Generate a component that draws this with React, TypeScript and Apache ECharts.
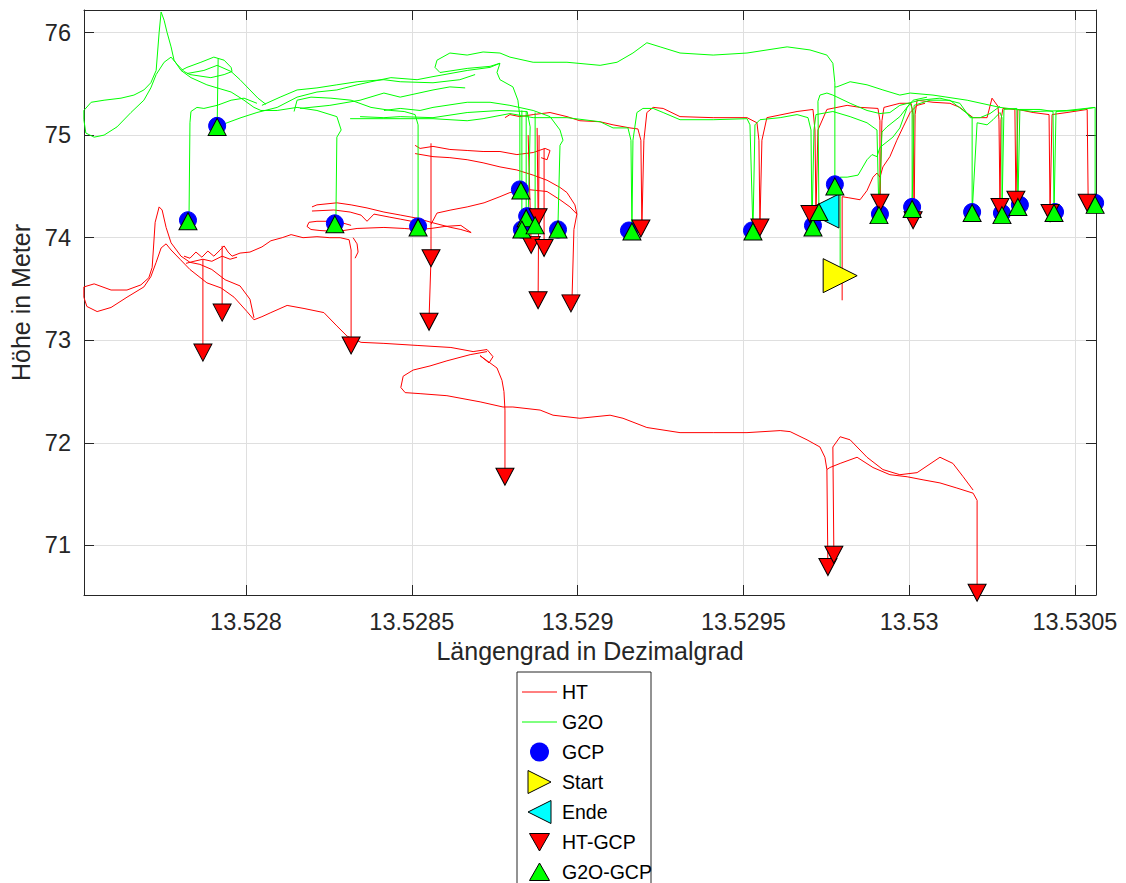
import React, { useEffect, useRef } from "react";
import * as echarts from "echarts";

type P = [number, number];

const xTicks = [13.528, 13.5285, 13.529, 13.5295, 13.53, 13.5305];
const yTicks = [71, 72, 73, 74, 75, 76];
const X_MIN = 13.5275114;
const X_MAX = 13.5305636;
const Y_MIN = 70.5175;
const Y_MAX = 76.2193;

const legendNames = ["HT", "G2O", "GCP", "Start", "Ende", "HT-GCP", "G2O-GCP"];

const htTracks: P[][] = [
  [[13.527511,73.52],[13.527511,73.42],[13.52752,73.33],[13.527551,73.28],[13.527593,73.32],[13.527641,73.42],[13.527692,73.52],[13.527713,73.62],[13.527729,73.76],[13.527744,73.90],[13.527759,73.94],[13.527774,73.88],[13.527801,73.79],[13.527831,73.69],[13.527882,73.56],[13.527925,73.51],[13.527964,73.42],[13.528003,73.28],[13.528024,73.20],[13.528048,73.23],[13.528075,73.27],[13.528124,73.34],[13.528175,73.31],[13.528235,73.27],[13.528274,73.14],[13.528305,73.04],[13.528347,72.98],[13.528416,72.97],[13.528516,72.95],[13.528618,72.93],[13.528685,72.89],[13.528727,72.91],[13.528745,72.84],[13.528733,72.78],[13.528706,72.85],[13.528757,72.73],[13.528772,72.61],[13.528778,72.50],[13.528781,72.32],[13.528781,71.67]],
  [[13.527511,73.52],[13.527542,73.55],[13.527593,73.49],[13.527641,73.49],[13.527683,73.54],[13.527707,73.61],[13.527717,73.71],[13.527726,74.15],[13.527738,74.30],[13.527747,74.27],[13.527759,74.10],[13.527774,73.95],[13.527804,73.82],[13.527831,73.76],[13.527861,73.74],[13.527897,73.69],[13.527937,73.59],[13.527982,73.53],[13.528012,73.40],[13.528024,73.22]],
  [[13.527813,73.82],[13.527831,73.80],[13.527849,73.86],[13.527867,73.81],[13.527885,73.87],[13.527903,73.82],[13.527922,73.88],[13.527934,73.92],[13.527946,73.86],[13.527958,73.82],[13.527982,73.85],[13.528012,73.86],[13.528048,73.91],[13.528075,73.97],[13.528109,74.00],[13.528136,74.03],[13.528172,74.00],[13.528214,74.01],[13.528253,74.00],[13.528284,74.00],[13.528311,73.98],[13.528317,73.88],[13.528317,72.96]],
  [[13.528323,74.00],[13.528335,73.94],[13.528338,73.86],[13.528329,73.80]],
  [[13.527819,73.75],[13.527843,73.77],[13.52787,73.79],[13.527897,73.77],[13.527928,73.82],[13.527952,73.79],[13.527973,73.81]],
  [[13.52787,73.79],[13.52787,72.88]],
  [[13.527928,73.92],[13.527928,73.27]],
  [[13.528199,74.30],[13.528214,74.32],[13.528274,74.34],[13.528317,74.32],[13.528365,74.29],[13.528416,74.25],[13.528467,74.22],[13.528516,74.19],[13.528558,74.15],[13.528618,74.10],[13.528648,74.08],[13.528679,74.05]],
  [[13.528199,74.26],[13.528265,74.27],[13.528314,74.25],[13.528347,74.22],[13.528365,74.16],[13.528386,74.23],[13.528434,74.20],[13.528467,74.18],[13.528516,74.15]],
  [[13.528317,74.12],[13.528274,74.16],[13.528214,74.16],[13.52819,74.15],[13.528184,74.11],[13.528196,74.08],[13.528223,74.07],[13.528274,74.06],[13.528335,74.09],[13.528416,74.10],[13.528477,74.09],[13.528516,74.08],[13.528558,74.09],[13.5286,74.11],[13.528648,74.12],[13.528679,74.05]],
  [[13.528558,74.13],[13.528576,74.24],[13.528618,74.27],[13.528667,74.30],[13.528718,74.34],[13.528766,74.40],[13.528796,74.44],[13.528848,74.47],[13.528908,74.45],[13.528947,74.37],[13.528977,74.30],[13.528998,74.23],[13.528989,74.08],[13.528983,73.37]],
  [[13.52851,74.90],[13.528525,74.87],[13.528564,74.89],[13.528615,74.86],[13.528667,74.85],[13.528715,74.84],[13.528766,74.84],[13.528817,74.81],[13.528866,74.83],[13.528902,74.87],[13.528917,74.85],[13.528908,74.76],[13.52889,74.78]],
  [[13.52851,74.82],[13.528564,74.79],[13.528615,74.78],[13.528667,74.76],[13.528715,74.73],[13.528766,74.69],[13.528817,74.66],[13.528866,74.61],[13.528908,74.56],[13.528947,74.49],[13.528968,74.44],[13.528992,74.32],[13.528998,74.23]],
  [[13.528558,74.92],[13.528558,73.80],[13.528552,73.20]],
  [[13.528781,75.17],[13.528796,75.20],[13.528826,75.18],[13.528866,75.20],[13.528917,75.22],[13.528968,75.18],[13.529007,75.14],[13.529068,75.13],[13.529107,75.10],[13.529158,75.07],[13.529182,75.06],[13.529191,74.95],[13.529194,74.10],[13.5292,74.95],[13.529209,75.22],[13.529228,75.27],[13.529258,75.26],[13.529309,75.18],[13.529409,75.17],[13.529511,75.17],[13.529541,75.12],[13.529547,74.95],[13.52955,74.11],[13.529556,74.95],[13.529571,75.17],[13.529662,75.23],[13.52971,75.25],[13.529716,75.05],[13.529719,74.25],[13.529725,75.05],[13.529752,75.25],[13.529813,75.29],[13.529852,75.27],[13.529906,75.26],[13.529912,75.14],[13.529912,74.35],[13.529918,75.14],[13.529924,75.27],[13.529972,75.31],[13.530006,75.31],[13.530012,75.20],[13.530015,74.18],[13.530018,75.20],[13.530024,75.34],[13.530072,75.32],[13.530123,75.31],[13.530153,75.27],[13.530193,75.17],[13.530235,75.17],[13.53025,75.36],[13.530268,75.28],[13.530271,75.15],[13.530274,74.31],[13.530277,75.15],[13.530283,75.26],[13.530319,75.25],[13.530322,74.38],[13.530328,75.25],[13.530374,75.22],[13.530422,75.20],[13.530425,74.25],[13.530431,75.20],[13.530476,75.22],[13.530537,75.25],[13.53054,74.35]],
  [[13.529798,73.39],[13.529798,74.40],[13.529816,74.39],[13.529852,74.37],[13.529873,74.46],[13.529891,74.59],[13.529903,74.63],[13.529912,74.59],[13.529921,74.69],[13.529942,74.79],[13.529963,74.95],[13.529982,75.08],[13.530003,75.22],[13.530024,75.29],[13.530048,75.31]],
  [[13.528727,72.89],[13.528676,72.86],[13.528606,72.80],[13.528555,72.75],[13.528504,72.71],[13.528474,72.65],[13.528467,72.54],[13.52848,72.49],[13.528525,72.48],[13.528606,72.46],[13.528706,72.40],[13.528775,72.35],[13.528805,72.35],[13.528887,72.32],[13.528926,72.27],[13.529007,72.24],[13.529098,72.27],[13.529137,72.24],[13.529209,72.15],[13.529309,72.10],[13.529409,72.10],[13.529511,72.10],[13.529611,72.12],[13.529641,72.11],[13.529692,72.03],[13.529731,71.96],[13.529746,71.86],[13.529752,71.74],[13.529755,70.79]],
  [[13.529752,71.74],[13.529761,71.76],[13.529792,71.80],[13.529843,71.86],[13.529891,71.76],[13.529942,71.69],[13.529994,71.67],[13.530042,71.64],[13.530093,71.61],[13.530144,71.56],[13.530193,71.51],[13.530205,71.44],[13.530205,70.54]],
  [[13.529773,70.91],[13.52977,71.96],[13.529792,72.06],[13.529822,72.03],[13.529873,71.86],[13.529921,71.74],[13.529972,71.69],[13.530024,71.71],[13.530093,71.86],[13.530132,71.80],[13.530163,71.67],[13.530193,71.54]],
  [[13.528851,75.00],[13.52886,73.93]],
  [[13.528878,75.07],[13.528881,74.20]],
  [[13.528884,75.00],[13.528881,73.39]],
  [[13.528899,74.87],[13.528899,73.90]],
];

const g2oTracks: P[][] = [
  [[13.527511,75.24],[13.527533,75.32],[13.527572,75.34],[13.527623,75.36],[13.527662,75.39],[13.527692,75.44],[13.527713,75.51],[13.527729,75.63],[13.527738,76.00],[13.527744,76.20],[13.527753,76.12],[13.527762,76.00],[13.527774,75.86],[13.527783,75.73],[13.527804,75.63],[13.527834,75.56],[13.527882,75.49],[13.527913,75.46],[13.527955,75.42],[13.527994,75.34],[13.528024,75.27],[13.528045,75.24],[13.528094,75.24],[13.528154,75.27],[13.528214,75.24],[13.528274,75.18],[13.528287,75.05],[13.528274,74.98],[13.528271,74.13]],
  [[13.527511,75.24],[13.527511,75.15],[13.527517,75.02],[13.527542,74.98],[13.527572,75.00],[13.527611,75.08],[13.527653,75.22],[13.527692,75.34],[13.527713,75.46],[13.527729,75.59],[13.527753,75.71],[13.527774,75.76],[13.527792,75.69],[13.527813,75.62],[13.527831,75.59],[13.527894,75.56],[13.527934,75.59],[13.527958,75.62],[13.527955,75.66],[13.527934,75.73],[13.527903,75.76],[13.527864,75.71],[13.527822,75.66],[13.527804,75.63]],
  [[13.527822,75.60],[13.527873,75.63],[13.527913,75.68],[13.527955,75.62],[13.527982,75.54],[13.528012,75.44],[13.528036,75.36],[13.52806,75.30]],
  [[13.527916,75.75],[13.527913,75.08]],
  [[13.527828,74.16],[13.527831,75.12],[13.527834,75.23],[13.527852,75.27],[13.527873,75.26],[13.527913,75.29],[13.527955,75.34],[13.527994,75.36],[13.528033,75.31]],
  [[13.527913,75.08],[13.527943,75.12],[13.527985,75.17],[13.528033,75.22],[13.528094,75.27],[13.528154,75.37],[13.528214,75.42],[13.528274,75.44],[13.528335,75.49],[13.528377,75.52],[13.528437,75.56],[13.528516,75.54],[13.528564,75.57],[13.528667,75.63],[13.528736,75.66],[13.528766,75.70]],
  [[13.528145,75.23],[13.528154,75.34],[13.528196,75.37],[13.528256,75.36],[13.528317,75.34],[13.528377,75.27],[13.528437,75.24],[13.528477,75.23],[13.52851,75.20],[13.528519,75.10],[13.528519,74.10]],
  [[13.528048,75.29],[13.528103,75.37],[13.528154,75.44],[13.528214,75.46],[13.528274,75.49],[13.528335,75.52],[13.528416,75.54],[13.528465,75.52],[13.528564,75.51],[13.528645,75.54],[13.528691,75.59]],
  [[13.528163,75.26],[13.528253,75.29],[13.528344,75.34],[13.528416,75.41],[13.528465,75.37],[13.528564,75.44],[13.528615,75.47],[13.528661,75.46]],
  [[13.528416,75.24],[13.528465,75.26],[13.528525,75.24],[13.528564,75.27],[13.528667,75.32],[13.528736,75.32],[13.528796,75.29],[13.528866,75.24],[13.528917,75.18],[13.528947,75.05],[13.528956,74.95],[13.528947,74.90],[13.528941,74.14]],
  [[13.528344,75.18],[13.528416,75.17],[13.528465,75.18],[13.528564,75.17],[13.528667,75.22],[13.528766,75.24],[13.528848,75.23],[13.528857,75.08],[13.528851,74.21]],
  [[13.528314,75.16],[13.528416,75.16],[13.528564,75.16],[13.528667,75.14],[13.528715,75.16],[13.528796,75.21],[13.528866,75.17],[13.528968,75.17],[13.529068,75.13],[13.529107,75.07],[13.529152,75.07],[13.529161,74.95],[13.529164,74.06]],
  [[13.528766,75.70],[13.528736,75.67],[13.528667,75.65],[13.528585,75.61],[13.52857,75.66],[13.528576,75.73],[13.528615,75.80],[13.528667,75.78],[13.528715,75.81],[13.528766,75.80],[13.528796,75.76],[13.528866,75.71],[13.528968,75.71],[13.529068,75.68],[13.529119,75.71],[13.529167,75.80],[13.529209,75.90],[13.529249,75.86],[13.529309,75.80],[13.529409,75.78],[13.529511,75.80],[13.529632,75.86],[13.529701,75.83],[13.529752,75.78],[13.52977,75.70],[13.529776,75.51],[13.529776,74.52]],
  [[13.528766,75.70],[13.528757,75.61],[13.528766,75.54],[13.528805,75.47],[13.52882,75.34],[13.528826,75.18],[13.528826,74.46]],
  [[13.529792,73.68],[13.529792,74.59],[13.529813,74.59],[13.529846,74.61],[13.529873,74.76],[13.529888,74.81],[13.529903,74.79],[13.529912,74.88],[13.529951,74.98],[13.529972,75.07],[13.529994,75.27],[13.530012,75.34],[13.530054,75.37]],
  [[13.529776,75.47],[13.529782,75.47],[13.529822,75.52],[13.529873,75.49],[13.529921,75.44],[13.529972,75.39],[13.530003,75.41],[13.530072,75.39],[13.530175,75.34],[13.530274,75.27],[13.530374,75.23],[13.530476,75.24],[13.530561,75.27],[13.530561,74.32]],
  [[13.529164,74.06],[13.529167,74.95],[13.529179,75.22],[13.529197,75.26],[13.529228,75.26],[13.529258,75.22],[13.529309,75.15],[13.529409,75.15],[13.529511,75.16],[13.52952,75.10],[13.529529,74.06],[13.529535,75.10],[13.52955,75.15],[13.529611,75.17],[13.529662,75.20],[13.529695,75.17],[13.529704,75.05],[13.529707,74.10],[13.529713,75.05],[13.529719,75.20],[13.52977,75.23],[13.529822,75.18],[13.529873,75.12],[13.529903,75.05],[13.529909,74.22],[13.529918,75.03],[13.529933,75.08],[13.529972,75.18],[13.530003,75.31],[13.530009,75.26],[13.530009,74.28],[13.530015,75.29],[13.530063,75.34],[13.530123,75.34],[13.530175,75.21],[13.53019,75.17],[13.53019,74.24],[13.530205,75.12],[13.530235,75.10],[13.530253,75.15],[13.530274,75.22],[13.53028,75.17],[13.53028,74.22],[13.530286,75.25],[13.530325,75.26],[13.530328,74.30],[13.530334,75.25],[13.530395,75.25],[13.530434,75.23],[13.530437,74.24],[13.530443,75.23],[13.5305,75.24],[13.530561,75.27]],
  [[13.529728,74.25],[13.529725,75.33],[13.529731,75.39],[13.529752,75.41],[13.52977,75.39],[13.529822,75.31],[13.529873,75.24],[13.529912,75.21],[13.529942,75.22],[13.529972,75.29],[13.530033,75.34],[13.530093,75.36],[13.530153,75.31],[13.530184,75.17],[13.530214,75.17],[13.530244,75.21],[13.530274,75.28]],
  [[13.528832,75.24],[13.528832,74.08]],
  [[13.528845,75.23],[13.528845,74.19]],
  [[13.528872,75.22],[13.528872,74.12]],
];

const gcpPoints: P[] = [
  [13.527825,74.17],[13.527913,75.09],[13.528268,74.14],[13.528519,74.11],[13.528826,74.47],[13.528848,74.21],[13.528832,74.08],[13.528941,74.08],[13.529155,74.07],[13.529526,74.07],[13.52971,74.12],[13.529776,74.52],[13.529912,74.23],[13.530009,74.30],[13.53019,74.25],[13.53028,74.24],[13.530334,74.32],[13.53044,74.25],[13.530561,74.34],
];
const startPoint: P[] = [[13.529792, 73.63]];
const endePoint: P[] = [[13.529737, 74.26]];
const htGcpPoints: P[] = [
  [13.52787,72.88],[13.527928,73.27],[13.528317,72.95],[13.528558,73.80],[13.528552,73.18],[13.528781,71.67],[13.528881,74.20],[13.52886,73.93],[13.528899,73.90],[13.528881,73.39],[13.52898,73.36],[13.529191,74.09],[13.52955,74.10],[13.529701,74.23],[13.529755,70.79],[13.529773,70.91],[13.529912,74.34],[13.530012,74.17],[13.530205,70.54],[13.530274,74.30],[13.530322,74.37],[13.530425,74.24],[13.530537,74.34],
];
const g2oGcpPoints: P[] = [
  [13.527825,74.16],[13.527913,75.08],[13.528268,74.13],[13.528519,74.10],[13.528829,74.46],[13.528845,74.19],[13.528832,74.08],[13.528872,74.12],[13.528941,74.08],[13.529164,74.06],[13.529529,74.06],[13.52971,74.10],[13.529728,74.25],[13.529776,74.50],[13.529909,74.22],[13.530009,74.28],[13.53019,74.24],[13.53028,74.22],[13.530328,74.30],[13.530437,74.24],[13.530561,74.32],
];

const FONT = "'Liberation Sans', Arial, Helvetica, sans-serif";
const AXIS_COLOR = "#262626";
const GRID_COLOR = "#dfdfdf";
const RED = "#ff0000";
const GREEN = "#00ff00";
const BLUE = "#0000ff";
const YELLOW = "#ffff00";
const CYAN = "#00ffff";

function lineSeries(name: string, color: string, tracks: P[][]) {
  return tracks.map((t) => ({
    type: "line",
    name,
    data: t,
    symbol: "none",
    showSymbol: false,
    lineStyle: { color, width: 1 },
    itemStyle: { color },
    silent: true,
    emphasis: { disabled: true },
    z: 2,
  }));
}

function scatter(name: string, data: P[], symbol: string, size: any, rotate: number, color: string, border: string) {
  return {
    type: "scatter",
    name,
    data,
    symbol,
    symbolSize: size,
    symbolRotate: rotate,
    itemStyle: { color, borderColor: border, borderWidth: 1, opacity: 1 },
    silent: true,
    emphasis: { disabled: true },
    z: 3,
  };
}

function legendGraphic() {
  const left = 517;
  const top = 672;
  const first = 692;
  const step = 30;
  const ix = 539.5;
  const children: any[] = [
    { type: "rect", shape: { x: left, y: top, width: 134, height: 240 }, style: { fill: "#ffffff", stroke: AXIS_COLOR, lineWidth: 1 } },
  ];
  legendNames.forEach((name, i) => {
    const cy = first + i * step;
    let icon: any;
    if (i === 0 || i === 1) {
      icon = { type: "line", shape: { x1: 522, y1: cy, x2: 557, y2: cy }, style: { stroke: i === 0 ? RED : GREEN, lineWidth: 1 } };
    } else if (i === 2) {
      icon = { type: "circle", shape: { cx: ix, cy, r: 9.5 }, style: { fill: BLUE } };
    } else if (i === 3) {
      icon = { type: "polygon", shape: { points: [[528, cy - 11.5], [551, cy], [528, cy + 11.5]] }, style: { fill: YELLOW, stroke: "#000", lineWidth: 1 } };
    } else if (i === 4) {
      icon = { type: "polygon", shape: { points: [[551, cy - 11.5], [528, cy], [551, cy + 11.5]] }, style: { fill: CYAN, stroke: "#000", lineWidth: 1 } };
    } else if (i === 5) {
      icon = { type: "polygon", shape: { points: [[ix - 10, cy - 8.5], [ix + 10, cy - 8.5], [ix, cy + 9]] }, style: { fill: RED, stroke: "#000", lineWidth: 1 } };
    } else {
      icon = { type: "polygon", shape: { points: [[ix - 10, cy + 8.5], [ix + 10, cy + 8.5], [ix, cy - 9]] }, style: { fill: GREEN, stroke: "#000", lineWidth: 1 } };
    }
    children.push(icon);
    children.push({
      type: "text",
      x: 562,
      y: cy,
      style: { text: name, fill: "#000000", font: `19.5px ${FONT}`, verticalAlign: "middle", align: "left" },
    });
  });
  return { type: "group", silent: true, children };
}

const fmtX = (v: number) => String(Number(v.toFixed(4)));

export default function App() {
  const ref = useRef<HTMLDivElement>(null);
  useEffect(() => {
    const chart = echarts.init(ref.current!, null, { renderer: "svg" });
    const xBase = {
      type: "value",
      min: X_MIN,
      max: X_MAX,
      axisLine: { show: true, onZero: false, lineStyle: { color: AXIS_COLOR, width: 1 } },
      axisTick: { show: true, inside: true, length: 10, customValues: xTicks, lineStyle: { color: AXIS_COLOR, width: 1 } },
    };
    const yBase = {
      type: "value",
      min: Y_MIN,
      max: Y_MAX,
      axisLine: { show: true, onZero: false, lineStyle: { color: AXIS_COLOR, width: 1 } },
      axisTick: { show: true, inside: true, length: 10, customValues: yTicks, lineStyle: { color: AXIS_COLOR, width: 1 } },
    };
    const option: any = {
      animation: false,
      backgroundColor: "#ffffff",
      grid: { left: 84, top: 10, width: 1012, height: 585, containLabel: false, outerBoundsMode: "none" },
      xAxis: [
        {
          ...xBase,
          position: "bottom",
          axisLabel: { show: true, customValues: xTicks, margin: 15, fontSize: 23.5, color: AXIS_COLOR, fontFamily: FONT, formatter: fmtX },
          splitLine: { show: true, lineStyle: { color: GRID_COLOR, width: 1 } },
          name: "Längengrad in Dezimalgrad",
          nameLocation: "middle",
          nameGap: 39,
          nameTextStyle: { fontSize: 25, color: AXIS_COLOR, fontFamily: FONT },
        },
        {
          ...xBase,
          position: "top",
          axisLabel: { show: false },
          splitLine: { show: false },
        },
      ],
      yAxis: [
        {
          ...yBase,
          position: "left",
          axisLabel: { show: true, customValues: yTicks, margin: 13, fontSize: 23.5, color: AXIS_COLOR, fontFamily: FONT },
          splitLine: { show: true, lineStyle: { color: GRID_COLOR, width: 1 } },
          name: "Höhe in Meter",
          nameLocation: "middle",
          nameRotate: 90,
          nameGap: 49,
          nameTextStyle: { fontSize: 25, color: AXIS_COLOR, fontFamily: FONT },
        },
        {
          ...yBase,
          position: "right",
          axisLabel: { show: false },
          splitLine: { show: false },
        },
      ],
      graphic: [legendGraphic()],
      series: [
        ...lineSeries("HT", RED, htTracks),
        ...lineSeries("G2O", GREEN, g2oTracks),
        scatter("GCP", gcpPoints, "circle", 17, 0, BLUE, BLUE),
        scatter("Start", startPoint, "triangle", [34, 34], -90, YELLOW, "#000000"),
        scatter("Ende", endePoint, "triangle", [34, 34], 90, CYAN, "#000000"),
        scatter("HT-GCP", htGcpPoints, "triangle", [18, 17], 180, RED, "#000000"),
        scatter("G2O-GCP", g2oGcpPoints, "triangle", [18, 17], 0, GREEN, "#000000"),
      ],
    };
    chart.setOption(option);
    return () => chart.dispose();
  }, []);
  return (
    <div
      ref={ref}
      style={{ position: "absolute", left: 0, top: 0, width: 1126, height: 883, background: "#ffffff" }}
    />
  );
}
